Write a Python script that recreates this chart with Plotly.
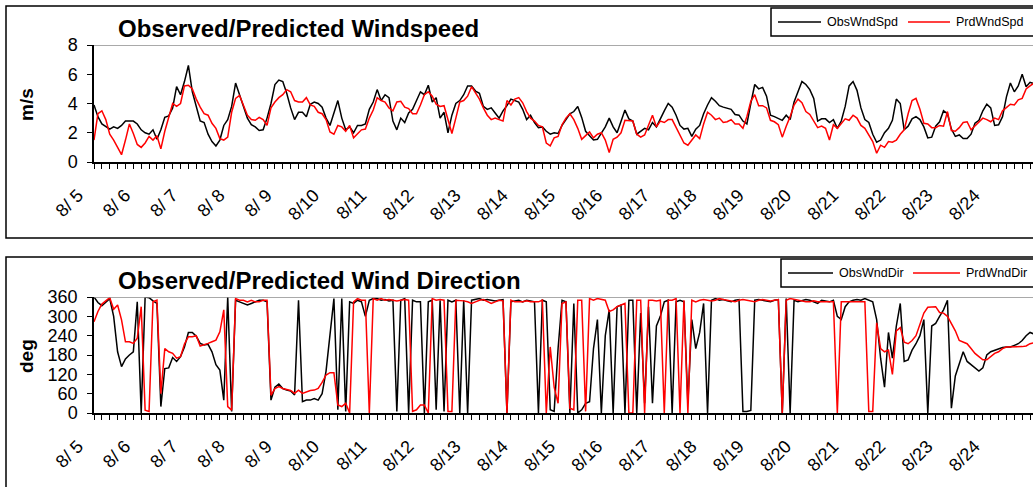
import plotly.graph_objects as go

W, H = 1033, 487

# Both series are sampled every 2 hours from 8/5 00:00
SPEED_STEP_H = 2
DIR_STEP_H = 2

obs_speed = [
    3.9, 3.1, 2.6, 2.45, 2.25, 2.4, 2.3, 2.5, 2.8, 2.8, 2.8, 2.6,
    2.2, 2.0, 1.9, 2.2, 1.55, 2.2, 3.05, 3.15, 3.7, 5.15, 4.6, 5.5,
    6.6, 4.8, 3.75, 2.8, 2.7, 1.9, 1.4, 1.1, 1.5, 2.5, 2.9, 3.8,
    5.4, 4.6, 3.8, 3.0, 2.55, 2.4, 2.15, 2.2, 3.0, 4.0, 5.3, 5.6,
    5.5, 4.7, 3.7, 2.9, 3.4, 3.4, 3.1, 3.95, 4.1, 4.0, 3.75, 3.0,
    2.5, 3.3, 4.2, 3.0, 2.2, 2.4, 2.0, 2.5, 2.5, 2.6, 3.6, 4.1,
    4.95, 4.2, 4.6, 4.4, 2.8, 2.2, 3.0, 2.7, 3.35, 3.6, 4.2, 4.8,
    4.6, 5.25, 4.1, 4.4, 3.0, 3.4, 2.0, 3.2, 4.0, 4.2, 4.6, 5.2,
    5.2, 4.85, 4.7, 3.8, 3.6, 3.7, 3.35, 3.0, 3.5, 3.85, 4.3, 4.2,
    4.1, 3.6, 2.9, 3.2, 2.7, 2.35, 2.4, 2.1, 1.9, 2.0, 1.95, 2.5,
    2.9, 3.3, 3.45, 3.8, 3.05, 2.1, 1.8, 1.5, 1.55, 1.95, 2.4, 3.0,
    2.4, 2.0, 2.8, 3.55, 2.95, 2.8, 1.9, 2.1, 2.3, 2.2, 2.7, 2.4,
    3.0, 3.5, 4.0, 3.75, 3.2, 2.5, 2.25, 2.3, 1.75, 2.25, 2.5, 3.3,
    3.9, 4.4, 4.15, 3.85, 3.75, 3.65, 3.6, 3.25, 3.2, 2.8, 2.6, 4.0,
    5.3, 5.0, 5.1, 4.5, 3.2, 3.1, 3.0, 2.85, 3.2, 2.9, 4.1, 4.8,
    5.5, 5.3, 4.95, 4.35, 2.8, 2.95, 2.95, 2.7, 2.9, 2.3, 2.8, 3.8,
    5.2, 5.5, 4.9, 3.7, 2.9, 2.7, 1.9, 1.35, 1.5, 2.0, 2.3, 2.85,
    4.3, 4.0, 2.2, 2.45, 2.95, 3.1, 2.9, 2.4, 1.65, 1.7, 2.45, 2.75,
    3.5, 3.3, 2.25, 1.75, 1.85, 1.6, 1.6, 1.9, 2.65, 2.85, 3.5, 3.95,
    3.7, 2.5, 2.55, 3.1, 4.45, 5.4, 4.8, 5.2, 6.0, 5.15, 5.45, 5.35,
    5.4,
]

prd_speed = [
    1.5, 3.3, 3.5, 2.9, 1.9, 1.5, 1.0, 0.5, 1.5, 2.6, 1.95, 1.2,
    1.0, 1.3, 1.75, 1.5, 1.8, 0.9, 2.1, 3.1, 4.0, 3.8, 4.0, 5.2,
    5.25, 5.0, 4.3, 3.75, 3.3, 3.2, 2.65, 2.3, 1.6, 1.5, 1.7, 3.4,
    4.35, 4.55, 3.8, 3.2, 2.9, 2.85, 3.05, 2.9, 2.5, 3.7, 4.1, 4.4,
    4.6, 4.95, 4.8, 4.2, 4.1, 4.1, 4.4, 3.9, 3.8, 3.4, 3.3, 2.9,
    2.05, 1.9, 2.5, 2.4, 2.1, 2.5, 1.65, 1.9, 2.2, 2.25, 3.0, 3.55,
    4.4, 4.2, 4.1, 3.7, 3.5, 4.1, 4.15, 3.75, 3.65, 3.3, 3.3, 3.9,
    4.6, 4.8, 4.5, 3.95, 3.8, 3.85, 2.8, 1.95, 3.0, 4.1, 4.2, 4.5,
    5.15, 4.75, 4.3, 3.7, 3.2, 2.9, 3.0, 2.9, 2.8, 4.2, 3.9, 4.3,
    4.4, 4.05, 3.45, 3.0, 2.8, 2.5, 2.4, 1.3, 1.1, 1.65, 1.75, 2.55,
    3.0, 3.3, 2.9, 2.3, 1.55, 1.8, 2.05, 1.65, 1.9, 2.0, 1.5, 0.65,
    1.55, 1.7, 2.0, 2.85, 2.8, 2.8, 1.9, 1.7, 1.85, 2.6, 3.2, 2.4,
    2.8, 2.7, 2.9, 2.9, 2.35, 1.9, 1.3, 1.15, 1.5, 1.85, 1.6, 2.6,
    3.4, 3.2, 2.9, 3.0, 2.7, 2.75, 2.9, 2.6, 2.6, 2.3, 3.1, 4.15,
    4.6, 3.85, 3.85, 3.7, 2.85, 2.75, 2.55, 1.7, 2.45, 3.1, 3.9, 4.3,
    4.05, 3.45, 3.25, 2.75, 2.35, 2.45, 2.3, 1.5, 2.55, 2.3, 2.6, 2.95,
    2.85, 3.2, 3.0, 2.5, 2.3, 1.85, 1.4, 0.6, 1.15, 1.0, 1.4, 1.35,
    1.5, 1.9, 2.2, 3.3, 4.2, 4.35, 3.6, 2.65, 2.6, 2.35, 2.35, 2.5,
    2.45, 3.45, 2.15, 2.1, 2.35, 2.7, 2.75, 2.2, 2.45, 2.7, 3.0, 2.9,
    2.75, 3.0, 2.9, 3.5, 3.7, 3.95, 3.9, 4.25, 4.35, 5.0, 5.2, 5.4,
    5.4,
]

obs_dir = [
    360, 343, 333, 345, 355, 300, 190, 144, 168, 180, 190, 345,
    0, 360, 358, 348, 340, 20, 138, 140, 172, 160, 175, 205,
    250, 250, 238, 216, 211, 213, 190, 150, 133, 40, 360, 5,
    350, 345, 340, 335, 340, 345, 350, 350, 345, 40, 80, 90,
    76, 71, 68, 56, 350, 35, 40, 40, 45, 40, 60, 130,
    250, 355, 10, 355, 5, 345, 340, 350, 345, 300, 350, 355,
    355, 350, 352, 348, 350, 5, 350, 355, 0, 350, 345, 345,
    0, 345, 350, 10, 350, 5, 350, 345, 350, 0, 350, 0,
    350, 352, 355, 350, 352, 350, 348, 350, 352, 0, 345, 348,
    350, 345, 350, 348, 345, 0, 350, 345, 10, 5, 200, 350,
    345, 0, 340, 0, 10, 30, 35, 200, 290, 0, 240, 320,
    0, 330, 335, 0, 350, 350, 0, 310, 30, 330, 30, 270,
    300, 345, 350, 0, 345, 350, 345, 30, 290, 200, 250, 340,
    0, 350, 355, 350, 352, 348, 345, 350, 352, 5, 5, 8,
    350, 352, 350, 348, 345, 350, 352, 0, 355, 0, 350, 345,
    348, 352, 350, 345, 340, 350, 348, 345, 350, 300, 290, 330,
    345, 350, 352, 350, 355, 350, 345, 290, 170, 80, 250, 170,
    270, 340, 160, 165, 195, 215, 240, 290, 0, 270, 278, 300,
    320, 350, 15, 115, 150, 190, 160, 150, 140, 130, 140, 180,
    190, 195, 200, 203, 205, 205, 210, 215, 225, 240, 250, 245,
    240,
]

prd_dir = [
    283, 315, 338, 348, 358, 322, 335, 289, 221, 221, 216, 232,
    330, 9, 5, 345, 350, 60, 200, 190, 185, 170, 175, 214,
    237, 237, 240, 208, 211, 216, 221, 226, 252, 320, 20, 9,
    355, 350, 350, 345, 350, 345, 345, 350, 350, 55, 76, 82,
    76, 74, 70, 61, 71, 61, 66, 70, 71, 76, 95, 118,
    125, 125, 25, 20, 30, 0, 345, 355, 350, 350, 0, 355,
    350, 355, 350, 352, 350, 348, 350, 352, 350, 5, 10, 25,
    25, 0, 355, 350, 352, 350, 5, 5, 350, 350, 348, 345,
    340, 345, 350, 352, 345, 340, 345, 350, 348, 0, 350, 345,
    345, 345, 348, 345, 345, 345, 350, 0, 205, 80, 30, 340,
    345, 15, 10, 350, 350, 5, 355, 350, 355, 352, 350, 315,
    320, 330, 335, 340, 0, 0, 350, 350, 0, 350, 350, 348,
    350, 0, 350, 350, 355, 0, 350, 0, 350, 345, 350, 352,
    350, 348, 350, 355, 352, 350, 348, 345, 350, 352, 350, 348,
    345, 350, 352, 350, 348, 350, 352, 0, 350, 355, 352, 350,
    348, 345, 345, 348, 345, 345, 345, 345, 345, 0, 345, 345,
    345, 345, 345, 345, 345, 5, 5, 280, 200, 190, 195, 120,
    255, 265, 220, 215, 225, 240, 275, 310, 328, 330, 330, 312,
    310, 300, 278, 255, 225, 220, 215, 200, 185, 175, 165, 165,
    175, 185, 190, 200, 205, 205, 206, 206, 206, 208, 215, 218,
    220,
]

day_labels = ["8/ 5", "8/ 6", "8/ 7", "8/ 8", "8/ 9", "8/10", "8/11", "8/12",
              "8/13", "8/14", "8/15", "8/16", "8/17", "8/18", "8/19", "8/20",
              "8/21", "8/22", "8/23", "8/24"]
speed_ticks = [0, 2, 4, 6, 8]
dir_ticks = [0, 60, 120, 180, 240, 300, 360]

speed_hours = [i * SPEED_STEP_H for i in range(len(obs_speed))]
dir_hours = [i * DIR_STEP_H for i in range(len(obs_dir))]

FONT = "Liberation Sans, Arial, sans-serif"
X_RANGE = [0, 477.5]

# minor ticks every 4 h, a date label at each midnight
tick_hours = list(range(0, 481, 4))
tick_text = [day_labels[h // 24] if h % 24 == 0 and h // 24 < len(day_labels) else ""
             for h in tick_hours]


def px_x(x):
    return x / W


def px_y(y):
    return 1 - y / H


fig = go.Figure()

fig.add_trace(go.Scatter(x=speed_hours, y=obs_speed, mode="lines", name="ObsWndSpd",
                         line=dict(color="black", width=1.5), xaxis="x", yaxis="y"))
fig.add_trace(go.Scatter(x=speed_hours, y=prd_speed, mode="lines", name="PrdWndSpd",
                         line=dict(color="#ff0000", width=1.5), xaxis="x", yaxis="y"))
fig.add_trace(go.Scatter(x=dir_hours, y=obs_dir, mode="lines", name="ObsWndDir",
                         line=dict(color="black", width=1.5), xaxis="x2", yaxis="y2"))
fig.add_trace(go.Scatter(x=dir_hours, y=prd_dir, mode="lines", name="PrdWndDir",
                         line=dict(color="#ff0000", width=1.5), xaxis="x2", yaxis="y2"))

xcommon = dict(
    range=X_RANGE, domain=[px_x(94), 1.0], tickmode="array", tickvals=tick_hours,
    ticktext=tick_text, tickangle=-45, ticks="outside", ticklen=5, tickwidth=1,
    tickcolor="black", showline=True, linecolor="black", linewidth=1.5,
    showgrid=False, zeroline=False, tickfont=dict(family=FONT, size=18, color="black"),
    ticklabelstandoff=9, ticklabelshift=-16, automargin=False, fixedrange=True,
)
ycommon = dict(
    ticks="outside", ticklen=5, tickwidth=1, tickcolor="black", showline=True,
    linecolor="black", linewidth=1.5, showgrid=False, zeroline=False,
    tickfont=dict(family=FONT, size=18, color="black"), ticklabelstandoff=6,
    automargin=False, fixedrange=True,
)

fig.update_layout(
    width=W, height=H, margin=dict(l=0, r=0, t=0, b=0, pad=0, autoexpand=False),
    autosize=False, paper_bgcolor="white", plot_bgcolor="white", showlegend=False,
    font=dict(family=FONT, color="black"),
    xaxis=dict(anchor="y", **xcommon),
    yaxis=dict(anchor="x", domain=[px_y(162), px_y(45)], range=[0, 8],
               tickvals=speed_ticks, **ycommon),
    xaxis2=dict(anchor="y2", **xcommon),
    yaxis2=dict(anchor="x2", domain=[px_y(413), px_y(297)], range=[0, 360],
                tickvals=dir_ticks, **ycommon),
)

shapes = []
# panel frames
shapes.append(dict(type="rect", xref="paper", yref="paper", x0=px_x(6), x1=1.02,
                   y0=px_y(238), y1=px_y(6), line=dict(color="black", width=1.5)))
shapes.append(dict(type="rect", xref="paper", yref="paper", x0=px_x(6), x1=1.02,
                   y0=px_y(492), y1=px_y(257), line=dict(color="black", width=1.5)))
# grey plot-area top edges
shapes.append(dict(type="line", xref="paper", yref="y", x0=px_x(94), x1=1.0, y0=8, y1=8,
                   line=dict(color="#8c8c8c", width=1.5)))
shapes.append(dict(type="line", xref="paper", yref="y2", x0=px_x(94), x1=1.0, y0=360, y1=360,
                   line=dict(color="#8c8c8c", width=1.5)))
# legend boxes
shapes.append(dict(type="rect", xref="paper", yref="paper", x0=px_x(771), x1=1.02,
                   y0=px_y(36), y1=px_y(8), line=dict(color="black", width=1.5),
                   fillcolor="white"))
shapes.append(dict(type="rect", xref="paper", yref="paper", x0=px_x(781), x1=1.02,
                   y0=px_y(287), y1=px_y(259), line=dict(color="black", width=1.5),
                   fillcolor="white"))

annotations = []


def legend_item(x0, x1, y, color, label):
    shapes.append(dict(type="line", xref="paper", yref="paper", x0=px_x(x0), x1=px_x(x1),
                       y0=px_y(y), y1=px_y(y), line=dict(color=color, width=1.5)))
    annotations.append(dict(text=label, xref="paper", yref="paper", x=px_x(x1 + 4),
                            y=px_y(y), xanchor="left", yanchor="middle", showarrow=False,
                            font=dict(family=FONT, size=12.5, color="black")))


legend_item(778, 821, 22, "black", "ObsWndSpd")
legend_item(908, 950, 22, "#ff0000", "PrdWndSpd")
legend_item(788, 833, 273, "black", "ObsWndDir")
legend_item(913, 960, 273, "#ff0000", "PrdWndDir")

annotations.append(dict(text="<b>Observed/Predicted Windspeed</b>", xref="paper", yref="paper",
                        x=px_x(116), y=px_y(28.5), xanchor="left", yanchor="middle",
                        showarrow=False, font=dict(family=FONT, size=24, color="black")))
annotations.append(dict(text="<b>Observed/Predicted Wind Direction</b>", xref="paper",
                        yref="paper", x=px_x(116), y=px_y(280), xanchor="left",
                        yanchor="middle", showarrow=False,
                        font=dict(family=FONT, size=24, color="black")))
annotations.append(dict(text="<b>m/s</b>", xref="paper", yref="paper", x=px_x(26),
                        y=px_y(105), xanchor="center", yanchor="middle", textangle=-90,
                        showarrow=False, font=dict(family=FONT, size=19, color="black")))
annotations.append(dict(text="<b>deg</b>", xref="paper", yref="paper", x=px_x(26),
                        y=px_y(356), xanchor="center", yanchor="middle", textangle=-90,
                        showarrow=False, font=dict(family=FONT, size=19, color="black")))

fig.update_layout(shapes=shapes, annotations=annotations)

fig.write_html("out.html", config={"displayModeBar": False})
